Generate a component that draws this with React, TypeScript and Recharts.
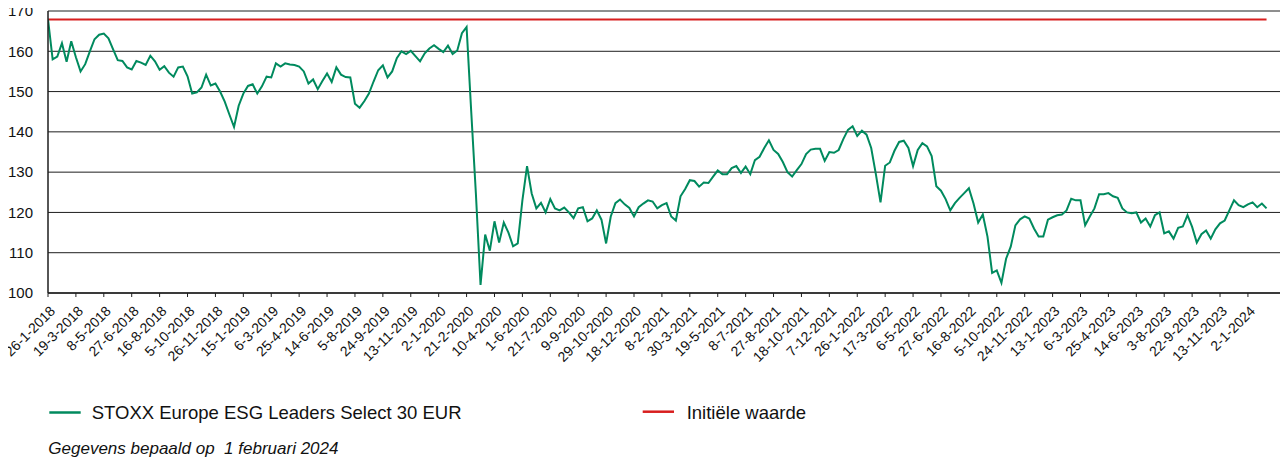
import { LineChart, Line, XAxis, YAxis, CartesianGrid, ReferenceLine } from "recharts";

/* ------------------------------------------------------------------ */
/*  Data                                                               */
/* ------------------------------------------------------------------ */

// one date label every 6 samples
const tickLabels = [
  "26-1-2018", "19-3-2018", "8-5-2018", "27-6-2018", "16-8-2018", "5-10-2018",
  "26-11-2018", "15-1-2019", "6-3-2019", "25-4-2019", "14-6-2019", "5-8-2019",
  "24-9-2019", "13-11-2019", "2-1-2020", "21-2-2020", "10-4-2020", "1-6-2020",
  "21-7-2020", "9-9-2020", "29-10-2020", "18-12-2020", "8-2-2021", "30-3-2021",
  "19-5-2021", "8-7-2021", "27-8-2021", "18-10-2021", "7-12-2021", "26-1-2022",
  "17-3-2022", "6-5-2022", "27-6-2022", "16-8-2022", "5-10-2022", "24-11-2022",
  "13-1-2023", "6-3-2023", "25-4-2023", "14-6-2023", "3-8-2023", "22-9-2023",
  "13-11-2023", "2-1-2024",
];

const INITIAL_VALUE = 167.9;

// Jan 2018 - Nov 2018
const valuesPart1 = [
  167.9, 158, 158.7, 162, 157.4, 162.5, 158.5, 155, 156.8, 160,
  163, 164.1, 164.4, 163.2, 160.5, 157.8, 157.6, 156, 155.5, 157.6,
  157.2, 156.6, 158.9, 157.5, 155.4, 156.3, 154.7, 153.7, 156, 156.2,
  153.8, 149.5, 149.8, 151, 154.2, 151.5, 152, 150, 147.5, 144.3,
  141.2, 146.5, 149.5, 151.4, 151.8, 149.5, 151.3, 153.7, 153.5, 157,
  156.2, 157, 156.7, 156.6, 156.2, 155, 152, 153, 150.6, 152.6,
];

// Dec 2019 - Oct 2020
const valuesPart2 = [
  154.5, 152.4, 156, 154.2, 153.6, 153.5, 147, 146, 147.6, 149.5,
  152.5, 155.3, 156.5, 153.5, 155, 158.3, 160, 159.3, 160.1, 158.8,
  157.5, 159.5, 160.7, 161.5, 160.6, 159.8, 161.4, 159.3, 160.2, 164.5,
  166, 145, 124.7, 102, 114.5, 110.5, 117.8, 112.5, 117.5, 115,
  111.6, 112.3, 123, 131.5, 124.7, 121, 122.4, 120, 123.3, 121,
  120.5, 121.2, 120, 118.6, 121, 121.3, 117.8, 118.5, 120.5, 118.2,
];

// Oct 2020 - Aug 2021
const valuesPart3 = [
  112.3, 119, 122.3, 123.2, 122, 121.1, 119, 121.3, 122.2, 123,
  122.7, 121, 121.8, 122.3, 119, 118, 124, 125.8, 128, 127.8,
  126.4, 127.4, 127.3, 128.9, 130.4, 129.5, 129.5, 131, 131.5, 129.8,
  131.4, 129.5, 133, 133.8, 136, 137.9, 135.5, 134.5, 132.5, 130,
  128.9, 130.5, 132, 134.5, 135.6, 135.8, 135.8, 132.8, 135, 134.8,
  135.5, 138.2, 140.5, 141.4, 139, 140.3, 139.3, 136, 129.5, 122.5,
];

// Feb 2022 - Sep 2023
const valuesPart4 = [
  131.6, 132.4, 135.3, 137.5, 137.8, 136, 131.5, 135.5, 137.2, 136.4,
  134, 126.5, 125.4, 123.3, 120.5, 122.3, 123.6, 124.8, 126, 122.2,
  117.5, 119.5, 114, 105, 105.6, 102.5, 108.5, 111.5, 116.8, 118.3,
  119, 118.5, 116, 114, 114, 118.2, 118.8, 119.3, 119.5, 120.5,
  123.4, 123, 123, 116.8, 119, 121, 124.5, 124.5, 124.8, 124,
  123.6, 121, 120, 119.8, 120, 117.5, 118.5, 116.5, 119.3, 120,
];

// Jun 2023 - Feb 2024
const valuesPart5 = [
  114.8, 115.3, 113.5, 116.2, 116.5, 119.3, 116.4, 112.5, 114.6, 115.5,
  113.5, 115.8, 117.3, 118, 120.5, 123, 121.8, 121.3, 122, 122.5,
  121.3, 122.2, 121,
];

const yTicks = [100, 110, 120, 130, 140, 150, 160, 170];

/* ------------------------------------------------------------------ */
/*  Constants                                                          */
/* ------------------------------------------------------------------ */

const SAMPLES_PER_TICK = 6;
const X_MAX = 266.4;
const FONT = "'Liberation Sans', Arial, sans-serif";
const GREEN = "#008a5e";
const RED = "#d81e1e";
const INK = "#1e1e1e";

const series = [...valuesPart1, ...valuesPart2, ...valuesPart3, ...valuesPart4, ...valuesPart5];
const data = series.map((v, i) => ({ i, index: v, initial: INITIAL_VALUE }));
const xTicks = tickLabels.map((_, k) => k * SAMPLES_PER_TICK);

/* ------------------------------------------------------------------ */
/*  Components                                                         */
/* ------------------------------------------------------------------ */

function DateTick(props: any) {
  const { x, y, payload } = props;
  const label = tickLabels[Math.round(payload.value / SAMPLES_PER_TICK)];
  const ax = x + 8;
  const ay = y + 13;
  return (
    <text
      x={ax}
      y={ay}
      transform={`rotate(-45 ${ax} ${ay})`}
      textAnchor="end"
      fontSize={14}
      fontFamily={FONT}
      fill="#111"
    >
      {label}
    </text>
  );
}

export default function App() {
  // negative margin cancels the body margin so the svg can use the full page
  return (
    <div style={{ position: "relative", width: 1288, height: 461, marginTop: -8, marginLeft: -8 }}>
      <LineChart
        width={1288}
        height={368}
        data={data}
        margin={{ top: 11, right: 1, bottom: 15, left: 8 }}
      >
        <CartesianGrid horizontal vertical={false} stroke={INK} strokeWidth={1} />
        <XAxis
          type="number"
          dataKey="i"
          domain={[0, X_MAX]}
          ticks={xTicks}
          interval={0}
          height={60}
          tickSize={4}
          tickLine={{ stroke: INK }}
          axisLine={{ stroke: INK, strokeWidth: 1.5 }}
          tick={<DateTick />}
          allowDataOverflow
        />
        <YAxis
          domain={[100, 170]}
          ticks={yTicks}
          interval={0}
          width={40}
          tickLine={false}
          tickSize={6}
          tickMargin={9}
          axisLine={{ stroke: INK, strokeWidth: 1.5 }}
          tick={{ fontSize: 15, fill: "#111", fontFamily: FONT }}
          allowDataOverflow
        />
        <ReferenceLine x={X_MAX} stroke={INK} strokeWidth={1.5} />
        <Line
          type="linear"
          dataKey="initial"
          stroke={RED}
          strokeWidth={2}
          dot={false}
          isAnimationActive={false}
        />
        <Line
          type="linear"
          dataKey="index"
          stroke={GREEN}
          strokeWidth={2}
          dot={false}
          isAnimationActive={false}
        />
      </LineChart>

      {/* legend + footnote */}
      <svg
        width={1288}
        height={93}
        style={{ position: "absolute", left: 0, top: 368 }}
        fontFamily={FONT}
      >
        <line x1={49.3} x2={80.7} y1={44.5} y2={44.5} stroke={GREEN} strokeWidth={2.5} />
        <text x={91.7} y={51} fontSize={18.5} fill="#111">
          STOXX Europe ESG Leaders Select 30 EUR
        </text>
        <line x1={642.7} x2={674} y1={43.7} y2={43.7} stroke={RED} strokeWidth={2.5} />
        <text x={686.7} y={51} fontSize={18.5} fill="#111">
          Initiële waarde
        </text>
        <text
          x={48.3}
          y={86.3}
          fontSize={17}
          fontStyle="italic"
          fill="#111"
          style={{ whiteSpace: "pre" }}
        >
          {"Gegevens bepaald op  1 februari 2024"}
        </text>
      </svg>
    </div>
  );
}
